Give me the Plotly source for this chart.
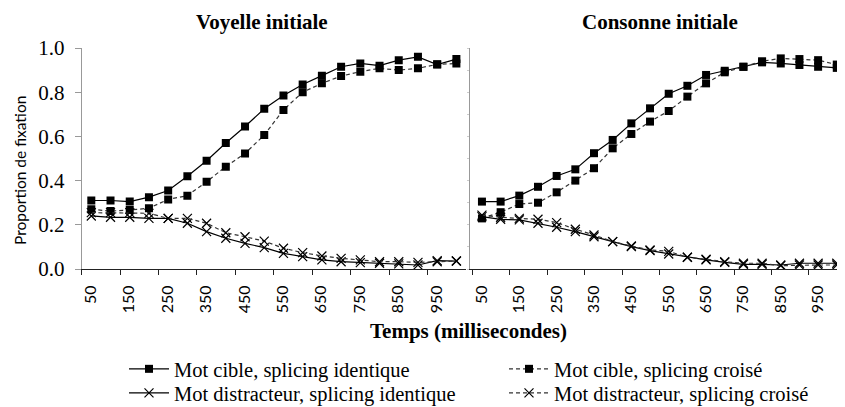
import plotly.graph_objects as go

# Temps (ms), one point every 50 ms
temps = [50, 100, 150, 200, 250, 300, 350, 400, 450, 500,
         550, 600, 650, 700, 750, 800, 850, 900, 950, 1000]
tick_labels = ["50", "150", "250", "350", "450", "550", "650", "750", "850", "950"]

# Voyelle initiale
voy_cible_ident = [0.31, 0.31, 0.305, 0.325, 0.355, 0.42, 0.49, 0.57, 0.645, 0.725,
                   0.785, 0.835, 0.875, 0.915, 0.93, 0.92, 0.945, 0.96, 0.925, 0.95]
voy_cible_crois = [0.27, 0.262, 0.267, 0.275, 0.315, 0.332, 0.395, 0.463, 0.523, 0.606,
                   0.72, 0.80, 0.84, 0.873, 0.893, 0.908, 0.90, 0.908, 0.926, 0.93]
voy_dist_ident = [0.24, 0.234, 0.234, 0.229, 0.229, 0.207, 0.169, 0.139, 0.116, 0.097,
                  0.071, 0.056, 0.041, 0.033, 0.029, 0.026, 0.023, 0.018, 0.038, 0.036]
voy_dist_crois = [0.255, 0.255, 0.255, 0.252, 0.229, 0.229, 0.207, 0.164, 0.146, 0.126,
                  0.094, 0.074, 0.059, 0.048, 0.041, 0.033, 0.033, 0.030, 0.033, 0.036]

# Consonne initiale
con_cible_ident = [0.305, 0.305, 0.332, 0.372, 0.421, 0.451, 0.524, 0.584, 0.659, 0.727,
                   0.793, 0.829, 0.878, 0.897, 0.915, 0.935, 0.93, 0.923, 0.915, 0.91]
con_cible_crois = [0.229, 0.257, 0.294, 0.30, 0.347, 0.40, 0.456, 0.546, 0.611, 0.667,
                   0.715, 0.78, 0.84, 0.89, 0.915, 0.94, 0.953, 0.95, 0.945, 0.925]
con_dist_ident = [0.237, 0.225, 0.222, 0.207, 0.189, 0.169, 0.146, 0.124, 0.101, 0.083,
                  0.068, 0.053, 0.041, 0.030, 0.021, 0.021, 0.018, 0.026, 0.026, 0.026]
con_dist_crois = [0.244, 0.234, 0.229, 0.225, 0.21, 0.18, 0.154, 0.124, 0.104, 0.086,
                  0.08, 0.053, 0.044, 0.033, 0.026, 0.026, 0.015, 0.018, 0.018, 0.018]

noms = ["Mot cible, splicing identique", "Mot cible, splicing croisé",
        "Mot distracteur, splicing identique", "Mot distracteur, splicing croisé"]

SERIF = "Liberation Serif"
SANS = "Lato"

# one small legend per entry so the 2x2 grid can be placed exactly
styles = [
    dict(dash="solid", symbol="square", color="black", legend="legend"),
    dict(dash="4px,3px", symbol="square", color="#333333", legend="legend2"),
    dict(dash="solid", symbol="x-thin-open", color="black", legend="legend3"),
    dict(dash="4px,3px", symbol="x-thin-open", color="#333333", legend="legend4"),
]

fig = go.Figure()

panels = [
    ("x", "y", [voy_cible_ident, voy_cible_crois, voy_dist_ident, voy_dist_crois], True),
    ("x2", "y2", [con_cible_ident, con_cible_crois, con_dist_ident, con_dist_crois], False),
]
for xa, ya, series, show in panels:
    for nom, vals, st in zip(noms, series, styles):
        is_x = st["symbol"].startswith("x")
        fig.add_trace(go.Scatter(
            x=temps, y=vals, name=nom, xaxis=xa, yaxis=ya,
            mode="lines+markers", showlegend=show, legend=st["legend"],
            line=dict(color=st["color"], width=1.2, dash=st["dash"]),
            marker=dict(symbol=st["symbol"], size=9 if is_x else 8,
                        color="black",
                        line=dict(color=st["color"], width=1.2 if is_x else 0)),
        ))

# page body adds an 8px offset, so the figure is 8px smaller and coords shift by 8
OFF = 8
W, H = 845 - OFF, 407 - OFF


def px_x(x):
    return (x - OFF) / W


def px_y(y):
    return (H - (y - OFF)) / H


y_dom = [px_y(269), px_y(48)]
bounds = [25 + 100 * k for k in range(10)]

xcommon = dict(
    tickmode="array", tickvals=bounds, ticktext=tick_labels,
    tickangle=-90, ticks="outside", ticklen=5, tickcolor="#222",
    ticklabelshift=9, ticklabelstandoff=4, automargin=False,
    showline=True, linecolor="#222", linewidth=1,
    showgrid=False, zeroline=False,
    tickfont=dict(family=SANS, size=16, color="black"),
)


def leg(x, y):
    return dict(x=px_x(x), y=px_y(y), xanchor="left", yanchor="middle",
                orientation="v", itemwidth=40,
                font=dict(family=SERIF, size=20.5, color="black"),
                bgcolor="rgba(0,0,0,0)")


def note(text, x, y, size, family=SERIF, angle=0):
    return dict(text=text, x=px_x(x), y=px_y(y), xref="paper", yref="paper",
                xanchor="center", yanchor="middle", showarrow=False,
                textangle=angle, font=dict(family=family, size=size, color="black"))


fig.update_layout(
    width=W, height=H,
    margin=dict(l=0, r=0, t=0, b=0, autoexpand=False),
    paper_bgcolor="white", plot_bgcolor="white",
    xaxis=dict(domain=[px_x(81.7), px_x(466)], range=[25, 1025], anchor="y", **xcommon),
    xaxis2=dict(domain=[px_x(470), 1.0], range=[18, 1022], anchor="y2", **xcommon),
    yaxis=dict(domain=y_dom, range=[0, 1.0], anchor="x", automargin=False,
               tickvals=[0, 0.2, 0.4, 0.6, 0.8, 1.0], tickformat=".1f",
               ticks="outside", ticklen=6, tickcolor="#999",
               ticklabelstandoff=6,
               showline=True, linecolor="#999", linewidth=1,
               showgrid=False, zeroline=False,
               tickfont=dict(family=SERIF, size=21, color="black")),
    yaxis2=dict(domain=y_dom, range=[0, 1.0], anchor="x2", automargin=False,
                showticklabels=False, dtick=0.1,
                ticks="outside", ticklen=2, tickcolor="#ccc",
                showline=True, linecolor="#999", linewidth=1,
                showgrid=False, zeroline=False),
    legend=leg(124, 369),
    legend2=leg(504, 369),
    legend3=leg(124, 393),
    legend4=leg(504, 393),
    annotations=[
        note("<b>Voyelle initiale</b>", 262, 21.5, 21),
        note("<b>Consonne initiale</b>", 660, 21.5, 21),
        note("<b>Temps (millisecondes)</b>", 468, 331, 21),
        note("Proportion de fixation", 20, 171, 15.5, SANS, -90),
    ],
)

fig.write_html("out.html")
